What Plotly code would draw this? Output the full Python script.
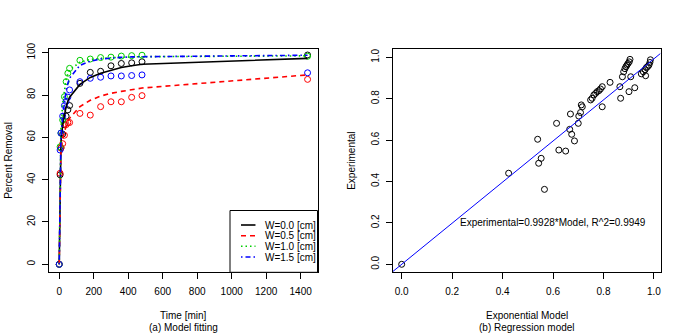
import plotly.graph_objects as go

# ---------------- data ----------------
times = [0, 5, 10, 20, 30, 40, 50, 60, 120, 180, 240, 300, 360, 420, 480, 1440]

series_names = ["W=0.0 [cm]", "W=0.5 [cm]", "W=1.0 [cm]", "W=1.5 [cm]"]

obs_w00 = [0, 42.3, 55, 61.5, 66, 70, 73, 75, 85.5, 90.7, 91.2, 93.8, 94.9, 95.2, 95.7, 98.9]
obs_w05 = [0, 43, 55, 57, 61, 66, 67, 67, 71.3, 70.5, 74.5, 76.8, 76.8, 78.9, 79.7, 87.4]
obs_w10 = [0, 55.5, 62, 68.2, 79.2, 86.3, 90.3, 92.6, 96.4, 97.0, 97.7, 97.9, 98.4, 98.6, 98.8, 98.3]
obs_w15 = [0, 54, 62, 70, 75, 77, 79, 82.4, 86.3, 87.9, 88.4, 89.0, 89.0, 89.2, 89.5, 90.5]

mod_w00 = [0, 42.3, 58, 66, 71, 74.5, 77, 79, 85, 88.3, 90.3, 91.8, 93, 93.8, 94.5, 97.3]
mod_w05 = [0, 44, 54, 59, 63, 65.5, 67.5, 69, 74.5, 77.5, 79.5, 80.8, 81.7, 82.5, 83.3, 89.5]
mod_w10 = [0, 50, 64, 76, 83, 87.5, 90, 91.8, 95.5, 96.8, 97.4, 97.7, 97.9, 98.0, 98.1, 98.5]
mod_w15 = [0, 48, 60, 70, 77, 82, 85.5, 88, 94, 96, 97, 97.5, 97.8, 98, 98.1, 98.8]

model_x = [0.000, 0.424, 0.543, 0.553, 0.566, 0.539, 0.623, 0.650, 0.614, 0.666,
           0.674, 0.685, 0.700, 0.669, 0.702, 0.709, 0.712, 0.716, 0.749, 0.755,
           0.762, 0.769, 0.775, 0.782, 0.788, 0.795, 0.795, 0.826, 0.865, 0.868,
           0.875, 0.880, 0.885, 0.889, 0.893, 0.897, 0.902, 0.905, 0.901, 0.908,
           0.924, 0.950, 0.958, 0.965, 0.970, 0.975, 0.980, 0.984, 0.986, 0.967]
exp_y = [0.000, 0.440, 0.488, 0.512, 0.362, 0.604, 0.552, 0.547, 0.681, 0.652,
         0.628, 0.596, 0.681, 0.726, 0.716, 0.733, 0.770, 0.761, 0.794, 0.802,
         0.818, 0.826, 0.834, 0.839, 0.847, 0.858, 0.761, 0.879, 0.858, 0.802,
         0.906, 0.930, 0.945, 0.955, 0.962, 0.970, 0.978, 0.990, 0.834, 0.906,
         0.853, 0.920, 0.930, 0.940, 0.950, 0.955, 0.962, 0.975, 0.988, 0.911]

slope = 0.9928
r2 = 0.9949

x_ticks_a = [0, 200, 400, 600, 800, 1000, 1200, 1400]
y_ticks_a = [0, 20, 40, 60, 80, 100]
ticks_b = [0.0, 0.2, 0.4, 0.6, 0.8, 1.0]
tick_labels_b = ["0.0", "0.2", "0.4", "0.6", "0.8", "1.0"]

# ---------------- styling ----------------
W, H = 686, 334
FONT = "Liberation Sans, Arial, Helvetica, sans-serif"
colors = ["#000000", "#FF0000", "#00CD00", "#0000FF"]
dashes = ["solid", "5px,4px", "1.5px,3px", "1.5px,3px,5px,3px"]


def px(x):
    return x / W


def py(y):
    return 1 - y / H


obs = [obs_w00, obs_w05, obs_w10, obs_w15]
mods = [mod_w00, mod_w05, mod_w10, mod_w15]

fig = go.Figure()

for i in range(4):
    fig.add_trace(go.Scatter(
        x=times, y=obs[i], mode="markers", xaxis="x", yaxis="y",
        marker=dict(symbol="circle-open", size=6, color=colors[i], line=dict(width=1, color=colors[i])),
        showlegend=False, cliponaxis=False))
for i in range(4):
    fig.add_trace(go.Scatter(
        x=times, y=mods[i], mode="lines", xaxis="x", yaxis="y",
        line=dict(color=colors[i], width=1.6, dash=dashes[i]),
        showlegend=False))

# right panel
xr_b = [-0.036, 1.026]
yr_b = [-0.0386, 1.0386]
fig.add_trace(go.Scatter(
    x=model_x, y=exp_y, mode="markers", xaxis="x2", yaxis="y2",
    marker=dict(symbol="circle-open", size=6, color="#000000", line=dict(width=1, color="#000000")),
    showlegend=False, cliponaxis=False))
fig.add_trace(go.Scatter(
    x=xr_b, y=[slope * v for v in xr_b], mode="lines", xaxis="x2", yaxis="y2",
    line=dict(color="#0000FF", width=1), showlegend=False))

axis_common = dict(
    showline=True, mirror=True, linecolor="#000000", linewidth=1,
    ticks="outside", ticklen=6, tickcolor="#000000", tickwidth=1,
    showgrid=False, zeroline=False, automargin=False,
    tickfont=dict(family=FONT, size=10, color="#000000"),
)

fig.update_layout(
    width=W, height=H,
    margin=dict(l=0, r=0, t=0, b=0),
    paper_bgcolor="white", plot_bgcolor="white",
    font=dict(family=FONT, size=10, color="#000000"),
    showlegend=False,
    xaxis=dict(domain=[px(49.3), px(317.5)], range=[-57.6, 1497.6],
               tickvals=x_ticks_a, ticklabelstandoff=4, anchor="y", **axis_common),
    yaxis=dict(domain=[py(272.3), py(49.3)], range=[-3.78, 101.6],
               tickvals=y_ticks_a, tickangle=-90, ticklabelstandoff=3, anchor="x", **axis_common),
    xaxis2=dict(domain=[px(392.6), px(660.5)], range=xr_b,
                tickvals=ticks_b, ticktext=tick_labels_b, ticklabelstandoff=4, anchor="y2", **axis_common),
    yaxis2=dict(domain=[py(272.3), py(49.3)], range=yr_b,
                tickvals=ticks_b, ticktext=tick_labels_b, tickangle=-90, ticklabelstandoff=3,
                anchor="x2", **axis_common),
)

annotations = []


def txt(x, y, s, angle=0, xanchor="center"):
    annotations.append(dict(x=px(x), y=py(y), xref="paper", yref="paper", text=s,
                            showarrow=False, textangle=angle, xanchor=xanchor, yanchor="middle",
                            font=dict(family=FONT, size=10, color="#000000")))


txt(183.4, 315, "Time [min]")
txt(183.4, 327.5, "(a) Model fitting")
txt(526.5, 315, "Exponential Model")
txt(526.5, 327.5, "(b) Regression model")
txt(9, 160.8, "Percent Removal", angle=-90)
txt(352, 160.8, "Experimental", angle=-90)

annotations.append(dict(x=0.6, y=0.2, xref="x2", yref="y2",
                        text="Experimental=%.4f*Model, R^2=%.4f" % (slope, r2),
                        showarrow=False, xanchor="center", yanchor="middle",
                        font=dict(family=FONT, size=10, color="#000000")))

# legend (bottom right of panel a)
shapes = [dict(type="rect", xref="paper", yref="paper",
               x0=px(230), x1=px(317.5), y0=py(272.3), y1=py(210.5),
               line=dict(color="#000000", width=1), fillcolor="white", layer="above")]
leg_y = [225, 235.7, 246.3, 257]
for i in range(4):
    shapes.append(dict(type="line", xref="paper", yref="paper",
                       x0=px(241), x1=px(255.5), y0=py(leg_y[i]), y1=py(leg_y[i]),
                       line=dict(color=colors[i], width=1.6, dash=dashes[i]), layer="above"))
    txt(263, leg_y[i], series_names[i], xanchor="left")

fig.update_layout(annotations=annotations, shapes=shapes)

fig.write_html("out.html", config={"displayModeBar": False},
               post_script="document.body.style.margin='0';document.body.style.overflow='hidden';")
